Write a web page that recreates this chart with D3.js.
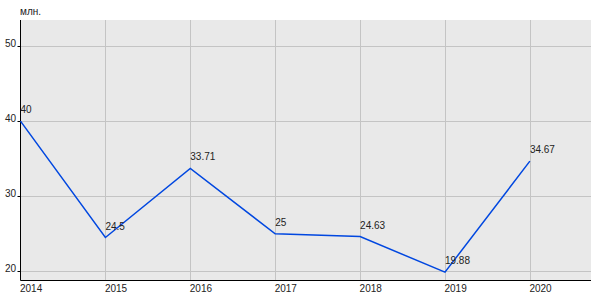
<!DOCTYPE html>
<html><head><meta charset="utf-8">
<script src="https://cdn.jsdelivr.net/npm/d3@7"></script>
<style>body{margin:0;background:#fff}svg{display:block}text{font-family:"Liberation Sans",Arial,sans-serif;font-size:10px;fill:#222}</style>
</head><body><svg id="c" width="600" height="300"></svg>
<script>
const years = [2014, 2015, 2016, 2017, 2018, 2019, 2020];
const values = [40, 24.5, 33.71, 25, 24.63, 19.88, 34.67];
const labels = ["40", "24.5", "33.71", "25", "24.63", "19.88", "34.67"];
const yTicks = [20, 30, 40, 50];
const unit = "млн.";

const svg = d3.select("#c");
const L = 20.5, R = 591, T = 20, B = 280;
const x = d3.scaleLinear().domain([2014, 2020.72]).range([L, R]);
const y = d3.scaleLinear().domain([18.84, 53.47]).range([B, T]);

svg.append("rect").attr("x", L).attr("y", T).attr("width", R - L).attr("height", B - T).attr("fill", "#e9e9e9");
svg.append("g").selectAll("line").data(yTicks).join("line")
  .attr("x1", L).attr("x2", R).attr("y1", d => Math.round(y(d)) + 0.5).attr("y2", d => Math.round(y(d)) + 0.5)
  .attr("stroke", "#c4c4c4");
svg.append("g").selectAll("line").data(years.slice(1)).join("line")
  .attr("x1", d => Math.round(x(d)) + 0.5).attr("x2", d => Math.round(x(d)) + 0.5).attr("y1", T).attr("y2", B)
  .attr("stroke", "#c4c4c4");

// axes lines
svg.append("line").attr("x1", L).attr("x2", L).attr("y1", T).attr("y2", B + 0.5).attr("stroke", "#000");
svg.append("line").attr("x1", L).attr("x2", R).attr("y1", B + 0.5).attr("y2", B + 0.5).attr("stroke", "#000");
svg.append("g").selectAll("line").data(yTicks).join("line")
  .attr("x1", L - 3).attr("x2", L).attr("y1", d => Math.round(y(d)) + 0.5).attr("y2", d => Math.round(y(d)) + 0.5)
  .attr("stroke", "#000");

svg.append("g").selectAll("text").data(yTicks).join("text")
  .attr("x", 16).attr("y", d => y(d) + 1).attr("text-anchor", "end").text(d => d);
svg.append("g").selectAll("text").data(years).join("text")
  .attr("x", d => x(d) - 0.5).attr("y", 292).text(d => d);
svg.append("text").attr("x", 20).attr("y", 15).text(unit);

const line = d3.line().x((d, i) => x(years[i])).y(d => y(d));
svg.append("path").datum(values).attr("d", line).attr("fill", "none")
  .attr("stroke", "#0047e0").attr("stroke-width", 1.5);

svg.append("g").selectAll("text").data(values).join("text")
  .attr("x", (d, i) => x(years[i])).attr("y", d => y(d) - 8)
  .text((d, i) => labels[i]);
</script></body></html>
